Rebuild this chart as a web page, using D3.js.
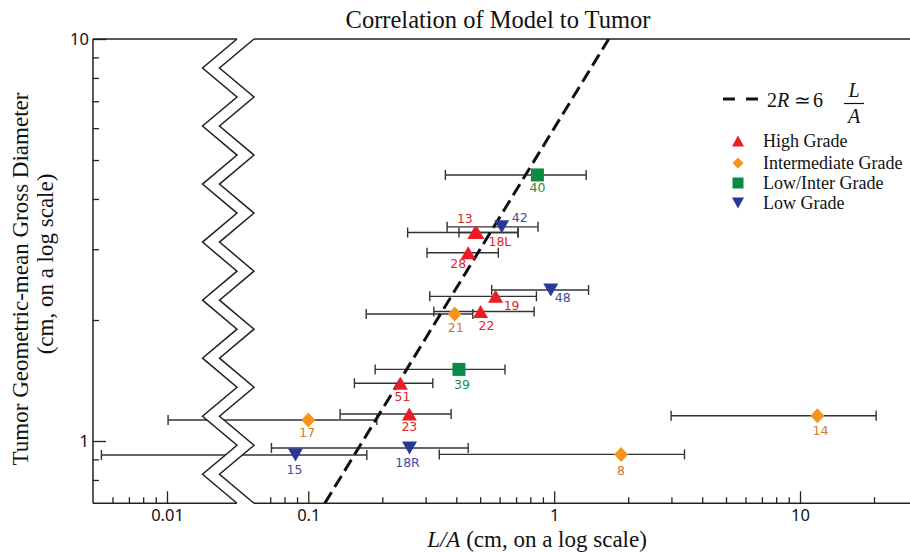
<!DOCTYPE html>
<html><head><meta charset="utf-8">
<script src="https://cdn.jsdelivr.net/npm/d3@7"></script>
<style>body{margin:0;background:#fff} svg{display:block}</style>
</head><body>
<svg id="c" width="910" height="553"></svg>
<script>
// ---------------- data ----------------
const ids        = ["13","18L","28","19","22","51","23","21","17","8","14","40","39","42","48","15","18R"];
const grades     = ["High","High","High","High","High","High","High","Inter","Inter","Inter","Inter","LowInter","LowInter","Low","Low","Low","Low"];
const lOverA     = [0.476,0.485,0.447,0.578,0.502,0.237,0.2576,0.394,0.100,1.872,11.77,0.855,0.410,0.612,0.969,0.0887,0.258];
const diameter   = [3.30,3.30,2.94,2.29,2.10,1.392,1.167,2.07,1.128,0.926,1.156,4.59,1.507,3.41,2.375,0.923,0.961];
const lOverALow  = [0.2535,0.41,0.304,0.312,0.324,0.154,0.1347,0.172,0.0101,0.341,2.99,0.361,0.187,0.367,0.557,0.00541,0.0708];
const lOverAHigh = [0.713,0.713,0.593,0.847,0.829,0.321,0.381,0.467,0.19,3.39,20.4,1.35,0.631,0.86,1.38,0.173,0.447];
const gradeKeys   = ["High","Inter","LowInter","Low"];
const gradeNames  = ["High Grade","Intermediate Grade","Low/Inter Grade","Low Grade"];
const modelCoef   = 6;          // 2R ≃ 6 L/A
const xMajorLeft  = [0.01];
const xMinorLeft  = [0.006,0.007,0.008,0.009];
const xMajorRight = [0.1,1,10];
const xMinorRight = [0.07,0.08,0.09,0.2,0.3,0.4,0.5,0.6,0.7,0.8,0.9,2,3,4,5,6,7,8,9,20];
const xTickLabels = {0.01:"0.01",0.1:"0.1",1:"1",10:"10"};
const yMajor      = [1,10];
const yMinor      = [0.8,0.9,2,3,4,5,6,7,8,9];
const yTickLabels = {1:"1",10:"10"};

// ---------------- layout / style ----------------
const markerColor = {High:"#ec1c24",Inter:"#f7941d",LowInter:"#0a8a45",Low:"#26399a"};
const labelColor  = {High:"#e3232c",Inter:"#d4782a",LowInter:"#1f8c45",Low:"#3d4da3"};
const labelOffset = {"13":[-10,-14],"18L":[23,9],"28":[-10,11],"19":[16,9],"22":[6,14],"51":[2,13],"23":[0,12],
  "21":[1,14],"17":[-1,13],"8":[0,16],"14":[3,15],"40":[0,13],"39":[3,15],"42":[18,-9],"48":[12,8],"15":[-1,15],"18R":[-2,15]};

const W = 910, H = 553;
const svg = d3.select("#c");
const y = d3.scaleLog().domain([1,10]).range([441,39]);
const yMinVal = 0.7;
const yTop = y(10), yBot = y(yMinVal);
const xR = d3.scaleLog().domain([0.1,10]).range([308.3,800]);
const dec = (800-308.3)/2;
const xL = d3.scaleLog().domain([0.01,0.1]).range([167,167+dec]);
const xLeftEdge = xL(0.005);
const breakL = 237, breakR = 254, breakVal = 0.03;
const X = v => v < breakVal ? xL(v) : xR(v);

const serif = "'Liberation Serif','Times New Roman',serif";
const sans = "'Noto Sans','DejaVu Sans',sans-serif";

// ---------- axes (ticks via d3 axes) ----------
function styleAxis(g){ g.select(".domain").remove(); g.selectAll("line").attr("stroke","#222").attr("stroke-width",1.3);
  g.selectAll("text").attr("font-family",sans).attr("font-size",16.5).attr("fill","#111"); }
const bottomG = svg.append("g").attr("transform",`translate(0,${yBot})`);
bottomG.append("g").call(d3.axisBottom(xL).tickValues(xMajorLeft).tickSize(-12).tickPadding(6).tickFormat(d=>xTickLabels[d])).call(styleAxis);
bottomG.append("g").call(d3.axisBottom(xL).tickValues(xMinorLeft).tickSize(-6).tickFormat("")).call(styleAxis);
bottomG.append("g").call(d3.axisBottom(xR).tickValues(xMajorRight).tickSize(-12).tickPadding(6).tickFormat(d=>xTickLabels[d])).call(styleAxis);
bottomG.append("g").call(d3.axisBottom(xR).tickValues(xMinorRight).tickSize(-6).tickFormat("")).call(styleAxis);
const leftG = svg.append("g").attr("transform",`translate(${xLeftEdge},0)`);
leftG.append("g").call(d3.axisLeft(y).tickValues(yMajor).tickSize(-13).tickPadding(4).tickFormat(d=>yTickLabels[d])).call(styleAxis);
leftG.append("g").call(d3.axisLeft(y).tickValues(yMinor).tickSize(-6).tickFormat("")).call(styleAxis);

// frame lines
const frame = svg.append("g").attr("stroke","#222").attr("stroke-width",1.5).attr("fill","none");
frame.append("line").attr("x1",xLeftEdge).attr("x2",xLeftEdge).attr("y1",yTop).attr("y2",yBot);
[yTop,yBot].forEach(yy=>{
  frame.append("line").attr("x1",xLeftEdge).attr("x2",breakL).attr("y1",yy).attr("y2",yy);
  frame.append("line").attr("x1",breakR).attr("x2",W).attr("y1",yy).attr("y2",yy);
});

// ---------- error bars ----------
const n = ids.length;
const idx = d3.range(n);
const eb = svg.append("g").attr("stroke","#333").attr("stroke-width",1.4);
idx.forEach(i=>{
  const yy = y(diameter[i]), a = X(lOverALow[i]), b = X(lOverAHigh[i]);
  eb.append("line").attr("x1",a).attr("x2",b).attr("y1",yy).attr("y2",yy);
  eb.append("line").attr("x1",a).attr("x2",a).attr("y1",yy-5).attr("y2",yy+5);
  eb.append("line").attr("x1",b).attr("x2",b).attr("y1",yy-5).attr("y2",yy+5);
});

// ---------- axis break zigzag ----------
const nSeg = 16, amp = breakL - 202.5, off = breakR - breakL;
const zl = d3.range(nSeg+1).map(k=>[k%2===0?breakL:breakL-amp, yTop + k*(yBot-yTop)/nSeg]);
const zr = zl.map(p=>[p[0]+off,p[1]]);
svg.append("path").attr("d", d3.line()(zl.concat(zr.slice().reverse()))+"Z").attr("fill","#fff").attr("stroke","none");
svg.append("path").attr("d", d3.line()(zl)).attr("fill","none").attr("stroke","#222").attr("stroke-width",1.5);
svg.append("path").attr("d", d3.line()(zr)).attr("fill","none").attr("stroke","#222").attr("stroke-width",1.5);

// ---------- model line ----------
svg.append("clipPath").attr("id","pc").append("rect").attr("x",breakR).attr("y",yTop).attr("width",W-breakR).attr("height",yBot-yTop);
const lx0 = yMinVal/modelCoef, lx1 = 10/modelCoef;
svg.append("line").attr("clip-path","url(#pc)")
  .attr("x1",xR(lx0)).attr("y1",y(modelCoef*lx0)).attr("x2",xR(lx1)).attr("y2",y(modelCoef*lx1))
  .attr("stroke","#111").attr("stroke-width",3).attr("stroke-dasharray","13,6");

// ---------- markers ----------
const shapes = {
  High:(w,h)=>`M0,${-h/2}L${w/2},${h/2}L${-w/2},${h/2}Z`,
  Low:(w,h)=>`M0,${h/2}L${w/2},${-h/2}L${-w/2},${-h/2}Z`,
  Inter:(w,h)=>`M0,${-h/2}L${w/2},0L0,${h/2}L${-w/2},0Z`,
  LowInter:(w,h)=>`M${-w/2},${-h/2}h${w}v${h}h${-w}Z`
};
const mSize = {High:[15,13],Low:[15,13],Inter:[14,15],LowInter:[13,13]};
const mk = svg.append("g");
idx.forEach(i=>{
  const g = grades[i];
  mk.append("path").attr("d",shapes[g](...mSize[g])).attr("fill",markerColor[g])
    .attr("transform",`translate(${X(lOverA[i])},${y(diameter[i])})`);
});
const lb = svg.append("g").attr("font-family","'DejaVu Sans',sans-serif").attr("font-size",12.5).attr("text-anchor","middle");
idx.forEach(i=>{
  const o = labelOffset[ids[i]];
  lb.append("text").attr("x",X(lOverA[i])+o[0]).attr("y",y(diameter[i])+o[1]).attr("dy","0.36em")
    .attr("fill",labelColor[grades[i]]).text(ids[i]);
});

// ---------- legend ----------
const lg = svg.append("g");
lg.append("line").attr("x1",723).attr("x2",758).attr("y1",99).attr("y2",99).attr("stroke","#111").attr("stroke-width",3).attr("stroke-dasharray","12,11");
const fm = lg.append("g").attr("font-family",serif).attr("font-size",20).attr("fill","#111");
const t1 = fm.append("text").attr("x",767).attr("y",107);
t1.append("tspan").text("2");
t1.append("tspan").attr("font-style","italic").text("R");
fm.append("text").attr("x",802).attr("y",107).attr("text-anchor","middle").text("≃");
fm.append("text").attr("x",813).attr("y",107).text("6");
fm.append("text").attr("x",854).attr("y",97).attr("text-anchor","middle").attr("font-style","italic").text("L");
fm.append("text").attr("x",854).attr("y",123).attr("text-anchor","middle").attr("font-style","italic").text("A");
fm.append("line").attr("x1",844).attr("x2",864).attr("y1",103.5).attr("y2",103.5).attr("stroke","#111").attr("stroke-width",1.2);
const legY = [141,163,183,203];
const legSize = {High:[12,11],Low:[12,11],Inter:[11,11],LowInter:[11,11]};
gradeKeys.forEach((g,k)=>{
  lg.append("path").attr("d",shapes[g](...legSize[g])).attr("fill",markerColor[g]).attr("transform",`translate(738,${legY[k]})`);
  lg.append("text").attr("x",763).attr("y",legY[k]).attr("dy","0.33em").attr("font-family",serif).attr("font-size",18).attr("fill","#111").text(gradeNames[k]);
});

// ---------- titles ----------
svg.append("text").attr("x",498).attr("y",28).attr("text-anchor","middle").attr("font-family",serif).attr("font-size",24.5).attr("fill","#111").text("Correlation of Model to Tumor");
const xl = svg.append("text").attr("x",537).attr("y",547).attr("text-anchor","middle").attr("font-family",serif).attr("font-size",23).attr("fill","#111");
xl.append("tspan").attr("font-style","italic").text("L/A");
xl.append("tspan").text(" (cm, on a log scale)");
svg.append("text").attr("transform","translate(28,279) rotate(-90)").attr("text-anchor","middle").attr("font-family",serif).attr("font-size",23).attr("fill","#111").text("Tumor Geometric-mean Gross Diameter");
svg.append("text").attr("transform","translate(53,264) rotate(-90)").attr("text-anchor","middle").attr("font-family",serif).attr("font-size",23).attr("fill","#111").text("(cm, on a log scale)");
</script>
</body></html>
